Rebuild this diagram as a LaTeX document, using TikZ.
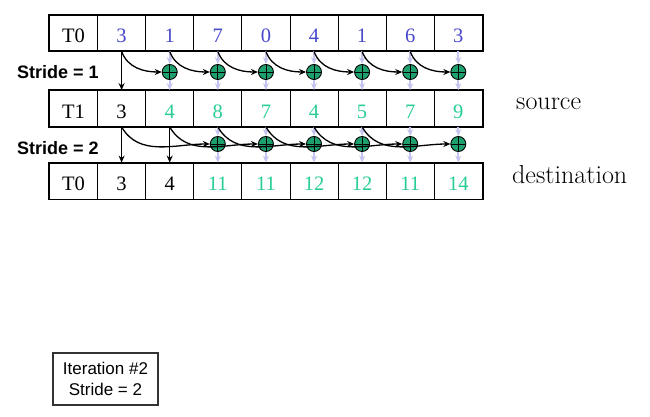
\documentclass[tikz,border=0pt]{standalone}
\usepackage{fontspec}
\setsansfont{Liberation Sans}
\newfontfamily\cellfont{Liberation Serif}
\usetikzlibrary{arrows.meta}
\definecolor{valblue}{RGB}{72,72,204}
\definecolor{valgreen}{RGB}{40,204,150}
\definecolor{addgreen}{RGB}{30,160,110}
\definecolor{flowlav}{RGB}{196,196,240}

\begin{document}
\begin{tikzpicture}[x=1pt, y=-1pt, >={Stealth[length=7pt, width=6pt]},
	cell/.style={draw, line width=0.8pt, minimum width=48.1pt, minimum height=36pt, inner sep=0pt, text height=19pt, text depth=0pt, font=\cellfont\fontsize{20.5}{24}\selectfont},
	addop/.style={circle, draw, line width=0.9pt, fill=addgreen, minimum size=15pt, inner sep=0pt,
		path picture={\draw[line width=0.8pt] (path picture bounding box.north) -- (path picture bounding box.south) (path picture bounding box.west) -- (path picture bounding box.east);}},
	flow/.style={->, flowlav, line width=1.8pt},
	carry/.style={->, black, line width=1.3pt},
	stridelbl/.style={anchor=west, inner sep=0pt, font=\sffamily\bfseries\fontsize{18}{21}\selectfont}]

	\useasboundingbox (0,0) rectangle (650,417);

	% input row
	\node[cell] (a0) at (73.5,33) {T0};
	\foreach \v [count=\i] in {3,1,7,0,4,1,6,3}
		\node[cell, text=valblue] (a\i) at ({73.5+48.1*\i},33) {\v};

	% source row
	\node[cell] (b0) at (73.5,108.5) {T1};
	\foreach \v/\c [count=\i] in {3/black,4/valgreen,8/valgreen,7/valgreen,4/valgreen,5/valgreen,7/valgreen,9/valgreen}
		\node[cell, text=\c] (b\i) at ({73.5+48.1*\i},108.5) {\v};

	% destination row
	\node[cell] (c0) at (73.5,181) {T0};
	\foreach \v/\c [count=\i] in {3/black,4/black,11/valgreen,11/valgreen,12/valgreen,12/valgreen,11/valgreen,14/valgreen}
		\node[cell, text=\c] (c\i) at ({73.5+48.1*\i},181) {\v};

	\draw[line width=1.8pt] (a0.north west) rectangle (a8.south east);
	\draw[line width=1.8pt] (b0.north west) rectangle (b8.south east);
	\draw[line width=1.8pt] (c0.north west) rectangle (c8.south east);

	% adders
	\foreach \i in {2,...,8}
		\node[addop] (p\i) at ({73.5+48.1*\i},72) {};
	\foreach \i in {3,...,8}
		\node[addop] (q\i) at ({73.5+48.1*\i},144) {};

	% stride 1
	\draw[carry] (a1.south) -- (b1.north);
	\foreach \i [evaluate=\i as \j using int(\i-1)] in {2,...,8} {
		\draw[flow] (a\i.south) -- (p\i.north);
		\draw[flow] (p\i.south) -- (b\i.north);
		\draw[carry] (a\j.south) to[out=-70, in=180] (p\i.west);
	}

	% stride 2
	\draw[carry] (b1.south) -- (c1.north);
	\draw[carry] (b2.south) -- (c2.north);
	\foreach \i [evaluate=\i as \j using int(\i-2)] in {3,...,8} {
		\draw[flow] (b\i.south) -- (q\i.north);
		\draw[flow] (q\i.south) -- (c\i.north);
		\draw[carry] (b\j.south) to[out=-60, in=180] (q\i.west);
	}

	\node[stridelbl] (s1) at (17,72) {Stride = 1};
	\node[stridelbl] (s2) at (17,148) {Stride = 2};

	\node[anchor=base west, inner sep=0pt, font=\fontsize{26}{30}\selectfont] (src) at (516,110) {source};
	\node[anchor=base west, inner sep=0pt, font=\fontsize{26}{30}\selectfont] (dst) at (512,183) {destination};

	\node[draw=black!80, line width=1.2pt, align=center, minimum width=105pt, minimum height=52pt, font=\sffamily\fontsize{17}{21}\selectfont] (iter) at (105.5,379) {Iteration \#2\\Stride = 2};

\end{tikzpicture}
\end{document}
